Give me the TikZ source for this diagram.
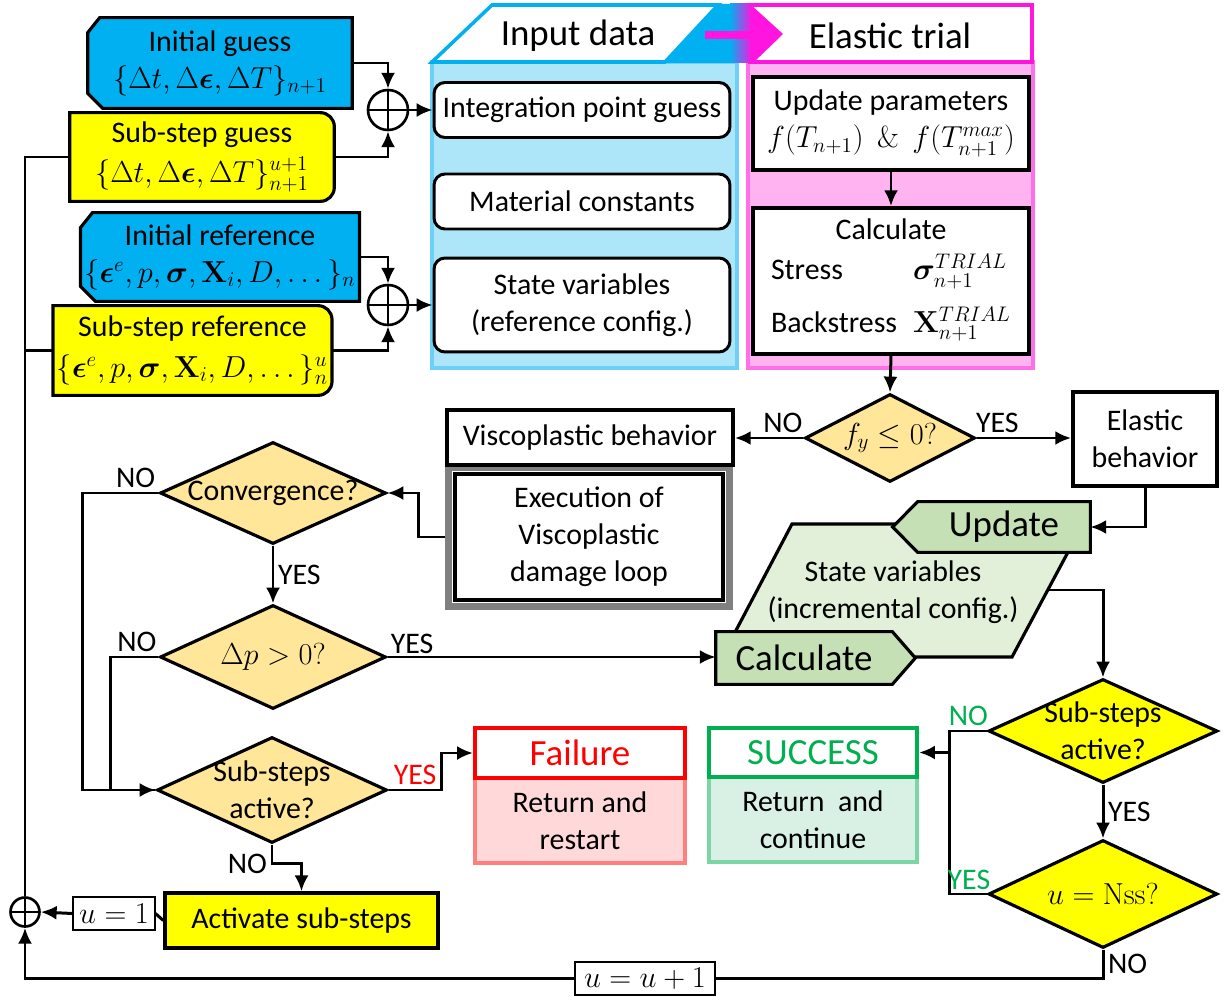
\documentclass[tikz,border=0pt]{standalone}
\usepackage{amsmath,amssymb,bm}
\usepackage[no-math]{fontspec}
\setmainfont{Carlito}
\usetikzlibrary{shapes,shapes.geometric,shapes.misc,arrows.meta,positioning,fit,calc,backgrounds}

\definecolor{cblue}{HTML}{00B0F0}
\definecolor{cyel}{HTML}{FFFF00}
\definecolor{cdia}{HTML}{FFE699}
\definecolor{cmag}{HTML}{FF14E0}
\definecolor{inpfill}{HTML}{ADE6F8}
\definecolor{inpline}{HTML}{6ED0F6}
\definecolor{elafill}{HTML}{FFB3F0}
\definecolor{elaline}{HTML}{FF6FE6}
\definecolor{grdark}{HTML}{C5E0B4}
\definecolor{grlight}{HTML}{E2F0D9}
\definecolor{cred}{HTML}{FF0000}
\definecolor{redlight}{HTML}{FFD9D9}
\definecolor{redline}{HTML}{FF7F7F}
\definecolor{cgreen}{HTML}{00B050}
\definecolor{grnlight}{HTML}{D8F1E4}
\definecolor{grnline}{HTML}{7DD5A5}

\newcommand{\fsnorm}{\fontsize{17}{21}\selectfont}
\newcommand{\fsbig}{\fontsize{21}{25}\selectfont}

\tikzset{
  % Plain box: thick black frame, text centred
  cbox/.style={draw, rectangle, line width=2pt, align=center, font=\fsnorm, inner sep=2pt},
  rbox/.style={cbox, line width=1.7pt, rounded corners=0.22cm, fill=white},
  % Text holder only: its outline is drawn behind it
  tbox/.style={rectangle, align=center, font=\fsnorm, inner sep=2pt},
  % Decision (empty shape, text set on top of it)
  dbox/.style={draw, diamond, line width=1.8pt, fill=cdia, inner sep=0pt},
  dtext/.style={align=center, font=\fsnorm, inner sep=0pt},
  % Summing junction
  oplus/.style={draw, circle, line width=1.5pt, fill=white, minimum size=0.8cm, inner sep=0pt,
    path picture={\draw[line width=1.3pt] (path picture bounding box.north) -- (path picture bounding box.south)
      (path picture bounding box.west) -- (path picture bounding box.east);}},
  outl/.style={line width=1.8pt, draw=black},
  % Arrows
  flowarr/.style={-{Latex[length=9pt,width=8pt]}, line width=1.7pt},
  flowln/.style={line width=1.7pt},
  lbl/.style={font=\fsnorm, inner sep=2pt},
  ubox/.style={draw, rectangle, line width=0.6pt, fill=white, font=\fsnorm, inner sep=1pt}
}

\begin{document}
\begin{tikzpicture}[x=0.02cm, y=-0.02cm]
\useasboundingbox (0,0) rectangle (1225,997);

% ============== Panels ==============
\draw[fill=inpfill, draw=inpline, line width=2pt] (432,62) rectangle (737,368);
\draw[fill=elafill, draw=elaline, line width=2pt] (748,62) rectangle (1033,368);

% ============== Header band ==============
\draw[fill=white, draw=cmag, line width=2pt] (750,5) rectangle (1032,62);
\draw[fill=white, draw=cblue, line width=2pt] (432,62) -- (492,5) -- (718,5) -- (665,62) -- cycle;
\fill[cblue] (665,63) -- (718,4) -- (731,4) -- (731,63) -- cycle;
\shade[left color=cblue, right color=cmag] (730,4) rectangle (752,63);
\fill[cmag] (750,4) -- (783,34) -- (753,63) -- (750,63) -- cycle;
\draw[cmag, line width=4pt] (705,35) -- (752,35);
\node[font=\fsbig] (hinp) at (578,36) {Input data};
\node[font=\fsbig] (hela) at (890,36) {Elastic trial};

% ============== Inputs (left) ==============
\node[tbox, minimum width=5.28cm, minimum height=1.8cm] (ig) at (220,63)
  {Initial guess\\$\{\Delta t,\Delta\boldsymbol{\epsilon},\Delta T\}_{n+1}$};
\node[tbox, minimum width=5.28cm, minimum height=1.76cm] (sg) at (202,157)
  {Sub-step guess\\[2pt]$\{\Delta t,\Delta\boldsymbol{\epsilon},\Delta T\}^{u+1}_{n+1}$};
\node[tbox, minimum width=5.28cm, minimum height=1.76cm] (ir) at (220,257)
  {Initial reference\\$\{\boldsymbol{\epsilon}^e,p,\boldsymbol{\sigma},\mathbf{X}_i,D,\dots\}_n$};
\node[tbox, minimum width=5.3cm, minimum height=1.78cm] (sr) at (192.5,350.5)
  {Sub-step reference\\[2pt]$\{\boldsymbol{\epsilon}^e,p,\boldsymbol{\sigma},\mathbf{X}_i,D,\dots\}^u_n$};

\node[oplus] (op1) at (388,110) {};
\node[oplus] (op2) at (388,305) {};

% ============== Input data ==============
\node[rbox, minimum width=5.92cm, minimum height=1.1cm] (ipg) at (582,110) {Integration point guess};
\node[rbox, minimum width=5.92cm, minimum height=1.1cm] (mc) at (582,201.5) {Material constants};
\node[rbox, minimum width=5.92cm, minimum height=1.88cm] (svr) at (582,305)
  {State variables\\(reference config.)};

% ============== Elastic trial ==============
\node[cbox, fill=white, line width=2.2pt, minimum width=5.52cm, minimum height=1.86cm] (upp) at (891,123.5)
  {Update parameters\\$f(T_{n+1})\ \ \&\ \ f(T^{max}_{n+1})$};
\node[cbox, fill=white, line width=2.2pt, minimum width=5.52cm, minimum height=2.92cm] (ctr) at (891,281)
  {Calculate\\[7pt]
   \begin{tabular*}{4.8cm}{@{}l@{\extracolsep{\fill}}l@{}}
   Stress & $\boldsymbol{\sigma}^{TRIAL}_{n+1}$\\[9pt]
   Backstress & $\mathbf{X}^{TRIAL}_{n+1}$
   \end{tabular*}};

% ============== Yield check ==============
\node[dbox, minimum width=3.4cm, minimum height=1.76cm] (fy) at (890,438) {};
\node[dtext] (fyt) at (fy) {$f_y\leq 0?$};
\node[cbox, fill=white, line width=2.2pt, minimum width=5.72cm, minimum height=1.1cm] (vb) at (590,437.5) {Viscoplastic behavior};
\node[cbox, fill=white, minimum width=5.36cm, minimum height=2.52cm] (exe) at (589,537)
  {Execution of\\Viscoplastic\\damage loop};
\node[cbox, fill=white, line width=2.2pt, minimum width=2.88cm, minimum height=1.88cm] (eb) at (1145,439) {Elastic\\behavior};

% ============== State update ==============
\node[tbox, minimum width=3.44cm, minimum height=1.0cm, font=\fsbig] (upd) at (1004,527) {Update};
\node[tbox] (svi) at (893,592) {State variables\\(incremental config.)};
\node[tbox, minimum width=3.52cm, minimum height=1.04cm, font=\fsbig] (cal) at (804,658) {Calculate};
\coordinate (sviR) at (1048,590);

% ============== Viscoplastic loop decisions ==============
\node[dbox, minimum width=4.52cm, minimum height=2.04cm] (conv) at (273,493) {};
\node[dtext] (convt) at (conv) {Convergence?};
\node[dbox, minimum width=4.52cm, minimum height=2.08cm] (dp) at (273,657) {};
\node[dtext] (dpt) at (dp) {$\Delta p>0?$};
\node[dbox, minimum width=4.6cm, minimum height=2.12cm] (ss1) at (272,790) {};
\node[dtext] (ss1t) at (ss1) {Sub-steps\\active?};

% ============== Exits ==============
\node[cbox, draw=redline, fill=redlight, line width=2pt, minimum width=4.2cm, minimum height=1.7cm] (failb) at (580,820.5)
  {Return and\\restart};
\node[cbox, draw=cred, fill=white, line width=2.4pt, minimum width=4.2cm, minimum height=1.0cm,
      font=\fsbig, text=cred] (fail) at (580,753) {Failure};
\node[cbox, draw=grnline, fill=grnlight, line width=2pt, minimum width=4.16cm, minimum height=1.7cm] (succb) at (813,819.5)
  {Return\ \ and\\continue};
\node[cbox, draw=cgreen, fill=white, line width=2.4pt, minimum width=4.16cm, minimum height=0.98cm,
      font=\fsbig, text=cgreen] (succ) at (813,752.5) {SUCCESS};

\node[dbox, fill=cyel, minimum width=4.58cm, minimum height=2.08cm] (ss2) at (1103,731) {};
\node[dtext] (ss2t) at (ss2) {Sub-steps\\active?};
\node[dbox, fill=cyel, minimum width=4.58cm, minimum height=2.16cm] (nss) at (1103,894) {};
\node[dtext] (nsst) at (nss) {$u=\mathrm{Nss}?$};

% ============== Sub-step counter ==============
\node[cbox, fill=cyel, minimum width=5.46cm, minimum height=1.1cm] (act) at (301.5,920.5) {Activate sub-steps};
\node[ubox, minimum width=1.64cm, minimum height=0.66cm] (u1) at (114,913.5) {$u=1$};
\node[oplus, minimum size=0.58cm] (op3) at (25,912) {};

% ============== Outlines behind text holders ==============
\begin{scope}[on background layer]
  \draw[outl, fill=cblue] ($(ig.north west)+(12,0)$) -- (ig.north east) -- (ig.south east)
    -- ($(ig.south west)+(15,0)$) -- ($(ig.south west)+(0,-15)$) -- ($(ig.north west)+(0,15)$) -- cycle;
  \draw[outl, fill=cblue] ($(ir.north west)+(12,0)$) -- (ir.north east) -- (ir.south east)
    -- ($(ir.south west)+(15,0)$) -- ($(ir.south west)+(0,-15)$) -- ($(ir.north west)+(0,15)$) -- cycle;
  \draw[outl, fill=cyel] (sg.north west) [rounded corners=0.28cm] -- (sg.north east) -- (sg.south east)
    [sharp corners] -- (sg.south west) -- cycle;
  \draw[outl, fill=cyel] (sr.north west) [rounded corners=0.28cm] -- (sr.north east) -- (sr.south east)
    [sharp corners] -- (sr.south west) -- cycle;
  % incremental state
  \draw[outl, fill=grlight] (792,524) -- (1083,524) -- (1012,657) -- (722,657) -- cycle;
  \draw[outl, fill=grdark] (upd.north east) -- (upd.north west) -- ($(upd.west)+(-25,0)$)
    -- (upd.south west) -- (upd.south east) -- cycle;
  \draw[outl, fill=grdark] (cal.north west) -- (cal.north east) -- ($(cal.east)+(23,0)$)
    -- (cal.south east) -- (cal.south west) -- cycle;
  % grey frame of the damage loop
  \node[draw=black!50, line width=4pt, fit=(exe), inner sep=0.09cm] (exf) {};
\end{scope}

% ============== Connectors ==============
\draw[flowarr] (ig.east) -| (op1.north);
\draw[flowarr] (sg.east) -| (op1.south);
\draw[flowarr] (op1.east) -- (ipg.west);
\draw[flowarr] (ir.east) -| (op2.north);
\draw[flowarr] (sr.east) -| (op2.south);
\draw[flowarr] (op2.east) -- (svr.west);

\draw[flowarr] (upp.south) -- (ctr.north);
\draw[flowarr] (ctr.south) -- (fy.north);
\draw[flowarr] (fy.west) -- node[lbl, above, pos=0.3] (lno1) {NO} (fy.west -| vb.east);
\draw[flowarr] (fy.east) -- node[lbl, above, pos=0.22] (lyes1) {YES} (fy.east -| eb.west);
\draw[flowarr] (eb.south) |- (upd.east);

\draw[flowarr] (exf.west) -- ++(-27,0) |- (conv.east);
\draw[flowarr] (conv.south) -- node[lbl, right] (lyes2) {YES} (dp.north);
\draw[flowarr] (dp.east) -- node[lbl, above right, pos=0, inner sep=1pt] (lyes3) {YES} (dp.east -| cal.west);
\draw[flowarr] (conv.west) -- node[lbl, above, pos=0.3] (lno2) {NO} ++(-76,0) |- (ss1.west);
\draw[flowln] (dp.west) -- node[lbl, above, pos=0.45] (lno3) {NO} ++(-48,0) |- (ss1.west);
\draw[flowarr] (ss1.east) -- node[lbl, above, text=cred] (lyes4) {YES} ++(53,0) |- (fail.west);
\draw[flowarr] (ss1.south) -- ++(0,19) node[lbl, left] (lno4) {NO} -| (act.north);

\draw[flowarr] (sviR) -| (ss2.north);
\draw[flowln] (ss2.west) -- node[lbl, above, text=cgreen] (lno5) {NO} ++(-37,0) coordinate (jn) |- (nss.west);
\node[lbl, above, text=cgreen] (lyes5) at ($(nss.west)+(-18,0)$) {YES};
\draw[flowarr] (jn |- succ.east) -- (succ.east);
\draw[flowarr] (ss2.south) -- node[lbl, right] (lyes6) {YES} (nss.north);
\draw[flowarr] (nss.south) -- node[lbl, right] (lno6) {NO} ++(0,29) -| (op3.south);
\node[ubox, minimum width=2.8cm, minimum height=0.66cm] (uu1) at (645,978.5) {$u=u+1$};

\draw[flowln] (act.west) -- (u1.east);
\draw[flowarr] (u1.west) -- (op3.east);
\draw[flowln] (sg.west) -| (op3.north);
\draw[flowln] (sr.west) -- (sr.west -| op3.north);

\end{tikzpicture}
\end{document}
